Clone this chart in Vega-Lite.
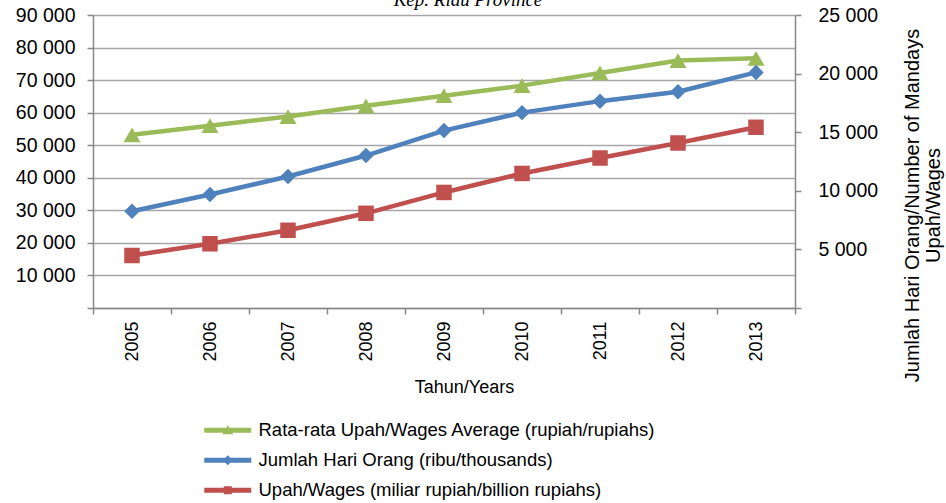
{
  "$schema": "https://vega.github.io/schema/vega-lite/v6.json",
  "width": 702,
  "height": 293,
  "autosize": {"type": "none"},
  "padding": {"left": 93, "top": 15, "right": 151, "bottom": 195},
  "background": "white",
  "title": {
    "text": "Kep. Riau Province",
    "font": "Liberation Serif",
    "fontStyle": "italic",
    "fontWeight": "normal",
    "fontSize": 19,
    "color": "black",
    "anchor": "middle",
    "dx": 24,
    "offset": -5
  },
  "data": {
    "values": [
      {"year": "2005", "series": "Rata-rata Upah/Wages Average (rupiah/rupiahs)", "axis": "left", "value": 53200},
      {"year": "2006", "series": "Rata-rata Upah/Wages Average (rupiah/rupiahs)", "axis": "left", "value": 56000},
      {"year": "2007", "series": "Rata-rata Upah/Wages Average (rupiah/rupiahs)", "axis": "left", "value": 58800},
      {"year": "2008", "series": "Rata-rata Upah/Wages Average (rupiah/rupiahs)", "axis": "left", "value": 62100},
      {"year": "2009", "series": "Rata-rata Upah/Wages Average (rupiah/rupiahs)", "axis": "left", "value": 65200},
      {"year": "2010", "series": "Rata-rata Upah/Wages Average (rupiah/rupiahs)", "axis": "left", "value": 68300},
      {"year": "2011", "series": "Rata-rata Upah/Wages Average (rupiah/rupiahs)", "axis": "left", "value": 72200},
      {"year": "2012", "series": "Rata-rata Upah/Wages Average (rupiah/rupiahs)", "axis": "left", "value": 76000},
      {"year": "2013", "series": "Rata-rata Upah/Wages Average (rupiah/rupiahs)", "axis": "left", "value": 76700},
      {"year": "2005", "series": "Jumlah Hari Orang (ribu/thousands)", "axis": "right", "value": 8250},
      {"year": "2006", "series": "Jumlah Hari Orang (ribu/thousands)", "axis": "right", "value": 9690},
      {"year": "2007", "series": "Jumlah Hari Orang (ribu/thousands)", "axis": "right", "value": 11220},
      {"year": "2008", "series": "Jumlah Hari Orang (ribu/thousands)", "axis": "right", "value": 13010},
      {"year": "2009", "series": "Jumlah Hari Orang (ribu/thousands)", "axis": "right", "value": 15140},
      {"year": "2010", "series": "Jumlah Hari Orang (ribu/thousands)", "axis": "right", "value": 16670},
      {"year": "2011", "series": "Jumlah Hari Orang (ribu/thousands)", "axis": "right", "value": 17650},
      {"year": "2012", "series": "Jumlah Hari Orang (ribu/thousands)", "axis": "right", "value": 18450},
      {"year": "2013", "series": "Jumlah Hari Orang (ribu/thousands)", "axis": "right", "value": 20100},
      {"year": "2005", "series": "Upah/Wages (miliar rupiah/billion rupiahs)", "axis": "right", "value": 4480},
      {"year": "2006", "series": "Upah/Wages (miliar rupiah/billion rupiahs)", "axis": "right", "value": 5480},
      {"year": "2007", "series": "Upah/Wages (miliar rupiah/billion rupiahs)", "axis": "right", "value": 6630},
      {"year": "2008", "series": "Upah/Wages (miliar rupiah/billion rupiahs)", "axis": "right", "value": 8080},
      {"year": "2009", "series": "Upah/Wages (miliar rupiah/billion rupiahs)", "axis": "right", "value": 9860},
      {"year": "2010", "series": "Upah/Wages (miliar rupiah/billion rupiahs)", "axis": "right", "value": 11480},
      {"year": "2011", "series": "Upah/Wages (miliar rupiah/billion rupiahs)", "axis": "right", "value": 12800},
      {"year": "2012", "series": "Upah/Wages (miliar rupiah/billion rupiahs)", "axis": "right", "value": 14080},
      {"year": "2013", "series": "Upah/Wages (miliar rupiah/billion rupiahs)", "axis": "right", "value": 15420}
    ]
  },
  "encoding": {
    "x": {
      "field": "year",
      "type": "ordinal",
      "scale": {"paddingInner": 0, "paddingOuter": 0},
      "axis": {
        "title": "Tahun/Years",
        "titleX": 371,
        "labelAngle": -90,
        "labelAlign": "right",
        "labelBaseline": "middle",
        "labelFont": "Liberation Sans",
        "labelFontSize": 18,
        "labelColor": "black",
        "labelPadding": 7,
        "tickBand": "extent",
        "ticks": true,
        "tickSize": 6,
        "tickColor": "#888888",
        "tickWidth": 1.5,
        "domainColor": "#888888",
        "domainWidth": 1.5,
        "grid": false,
        "titleFont": "Liberation Sans",
        "titleFontSize": 18,
        "titleFontWeight": "normal",
        "titleColor": "black",
        "titlePadding": 17
      }
    },
    "color": {
      "field": "series",
      "type": "nominal",
      "scale": {
        "domain": ["Rata-rata Upah/Wages Average (rupiah/rupiahs)", "Jumlah Hari Orang (ribu/thousands)", "Upah/Wages (miliar rupiah/billion rupiahs)"],
        "range": ["#9BBB59", "#4F81BD", "#C0504D"]
      },
      "legend": {"title": null}
    }
  },
  "layer": [
    {
      "transform": [{"filter": "datum.axis === 'left'"}],
      "encoding": {
        "y": {
          "field": "value",
          "type": "quantitative",
          "scale": {"domain": [0, 90000], "nice": false},
          "axis": {
            "orient": "left",
            "title": null,
            "values": [0, 10000, 20000, 30000, 40000, 50000, 60000, 70000, 80000, 90000],
            "labelExpr": "datum.value == 0 ? '' : replace(format(datum.value, ','), ',', ' ')",
            "labelFont": "Liberation Sans",
            "labelFontSize": 19.5,
            "labelColor": "black",
            "labelPadding": 12,
            "tickSize": 6,
            "tickColor": "#888888",
            "tickWidth": 1.5,
            "domainColor": "#888888",
            "domainWidth": 1.5,
            "grid": true,
            "gridColor": "#a6a6a6",
            "gridWidth": 1.3
          }
        }
      },
      "layer": [
        {"mark": {"type": "line", "strokeWidth": 4.5}},
        {"mark": {"type": "point", "filled": true, "opacity": 1, "shape": "triangle-up", "size": 290}},
        {
          "transform": [{"filter": "false"}],
          "mark": {"type": "point", "filled": true, "opacity": 1},
          "encoding": {
            "shape": {
              "field": "series",
              "type": "nominal",
              "scale": {
                "domain": ["Rata-rata Upah/Wages Average (rupiah/rupiahs)", "Jumlah Hari Orang (ribu/thousands)", "Upah/Wages (miliar rupiah/billion rupiahs)"],
                "range": [
                  "M-1,-0.3H4.875V0.3H-1Z M1.94,-0.62L2.62,0.5L1.26,0.5Z",
                  "M-1,-0.3H4.875V0.3H-1Z M1.94,-0.62L2.56,0L1.94,0.62L1.32,0Z",
                  "M-1,-0.3H4.875V0.3H-1Z M1.44,-0.5H2.44V0.5H1.44Z"
                ]
              },
              "legend": {"title": null}
            }
          }
        }
      ]
    },
    {
      "transform": [{"filter": "datum.axis === 'right'"}],
      "encoding": {
        "y": {
          "field": "value",
          "type": "quantitative",
          "scale": {"domain": [0, 25000], "nice": false},
          "axis": {
            "orient": "right",
            "title": ["Jumlah Hari Orang/Number of Mandays", "Upah/Wages"],
            "titleAngle": -90,
            "titleY": 190,
            "titleFont": "Liberation Sans",
            "titleFontSize": 20,
            "titleLineHeight": 21,
            "titleFontWeight": "normal",
            "titleColor": "black",
            "titlePadding": 24,
            "values": [0, 5000, 10000, 15000, 20000, 25000],
            "labelExpr": "datum.value == 0 ? '' : replace(format(datum.value, ','), ',', ' ')",
            "labelFont": "Liberation Sans",
            "labelFontSize": 19.5,
            "labelColor": "black",
            "labelPadding": 17,
            "tickSize": 6,
            "tickColor": "#888888",
            "tickWidth": 1.5,
            "domainColor": "#888888",
            "domainWidth": 1.5,
            "grid": false
          }
        }
      },
      "layer": [
        {"mark": {"type": "line", "strokeWidth": 4.5}},
        {
          "transform": [{"filter": "datum.series === 'Jumlah Hari Orang (ribu/thousands)'"}],
          "mark": {"type": "point", "filled": true, "opacity": 1, "shape": "diamond", "size": 240}
        },
        {
          "transform": [{"filter": "datum.series === 'Upah/Wages (miliar rupiah/billion rupiahs)'"}],
          "mark": {"type": "point", "filled": true, "opacity": 1, "shape": "square", "size": 240}
        }
      ]
    }
  ],
  "resolve": {"scale": {"y": "independent"}},
  "config": {
    "view": {"stroke": null},
    "legend": {
      "orient": "none",
      "legendX": 110,
      "legendY": 406,
      "direction": "vertical",
      "padding": 0,
      "labelFont": "Liberation Sans",
      "labelFontSize": 18.5,
      "labelColor": "black",
      "labelLimit": 600,
      "symbolSize": 256,
      "symbolStrokeWidth": 0,
      "labelOffset": 37,
      "rowPadding": 11
    }
  }
}
